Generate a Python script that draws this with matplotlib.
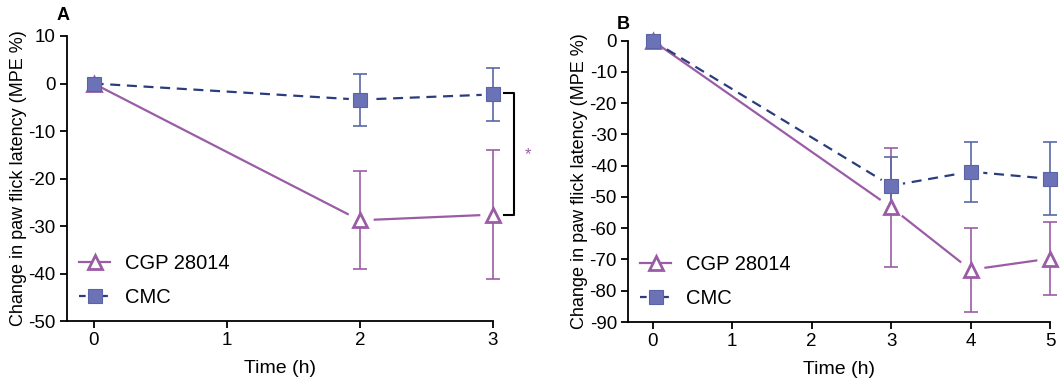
import matplotlib
matplotlib.use("Agg")
import matplotlib.pyplot as plt
from matplotlib.lines import Line2D

plt.rcParams['font.family'] = ['Liberation Sans', 'DejaVu Sans']
plt.rcParams['axes.unicode_minus'] = False

# Panel A data
a_time = [0, 2, 3]
a_cgp = [0, -28.8, -27.6]
a_cgp_err = [0, 10.3, 13.5]
a_cmc = [0, -3.4, -2.3]
a_cmc_err = [0, 5.5, 5.5]

# Panel B data
b_time = [0, 3, 4, 5]
b_cgp = [0, -53.3, -73.3, -69.7]
b_cgp_err = [0, 19.0, 13.5, 11.6]
b_cmc = [0, -46.4, -41.9, -44.2]
b_cmc_err = [0, 9.2, 9.6, 11.7]

ylabel = "Change in paw flick latency (MPE %)"
xlabel = "Time (h)"
labels = ["CGP 28014", "CMC"]

PURPLE = "#9b5ca6"
NAVY = "#2b3d7c"
SQFILL = "#6b72b5"
SQERR = "#5a68a6"

fig = plt.figure(figsize=(10.63, 3.85), dpi=100)
axA = fig.add_axes([0.063, 0.1662, 0.4008, 0.7403])
axB = fig.add_axes([0.5908, 0.1636, 0.397, 0.7307])


def draw(ax, t, cgp, cgpe, cmc, cmce):
    ax.plot(t, cgp, color=PURPLE, lw=1.6, zorder=1, clip_on=False)
    ax.plot(t, cmc, color=NAVY, lw=1.6, ls=(0, (4.5, 3)), zorder=1, clip_on=False)
    # gaps around markers
    ax.plot(t[1:], cgp[1:], ls='none', marker='o', ms=19, mfc='white', mec='none', zorder=2, clip_on=False)
    ax.plot(t[1:], cmc[1:], ls='none', marker='o', ms=17, mfc='white', mec='none', zorder=2, clip_on=False)
    ax.errorbar(t[1:], cgp[1:], yerr=cgpe[1:], fmt='none', ecolor=PURPLE, elinewidth=1.2,
                capsize=4.7, capthick=1.2, zorder=3, clip_on=False)
    ax.errorbar(t[1:], cmc[1:], yerr=cmce[1:], fmt='none', ecolor=SQERR, elinewidth=1.2,
                capsize=4.7, capthick=1.2, zorder=3, clip_on=False)
    ax.plot(t, cgp, ls='none', marker='^', ms=10.5, mfc='white', mec=PURPLE, mew=2, zorder=4, clip_on=False)
    ax.plot(t, cmc, ls='none', marker='s', ms=9.6, mfc=SQFILL, mec='#5a63a8', mew=0.8, zorder=5, clip_on=False)
    for s in ['top', 'right']:
        ax.spines[s].set_visible(False)
    for s in ['left', 'bottom']:
        ax.spines[s].set_linewidth(1.3)
    ax.tick_params(axis='both', direction='out', length=5, width=1.3, labelsize=13.5, pad=3)
    ax.set_ylabel(ylabel, fontsize=13, labelpad=1)
    ax.set_xlabel(xlabel, fontsize=14, labelpad=8)
    h1 = Line2D([], [], color=PURPLE, lw=1.6, marker='^', ms=10.5, mfc='white', mec=PURPLE, mew=2)
    h2 = Line2D([], [], color=NAVY, lw=1.6, ls=(0, (3, 2)), marker='s', ms=9.6, mfc=SQFILL, mec='#5a63a8', mew=0.8)
    return [h1, h2]


def legend(ax, handles):
    ax.legend(handles, labels, loc='lower left', bbox_to_anchor=(-0.005, 0.0), frameon=False,
              fontsize=14.5, handlelength=1.55, handletextpad=0.75, labelspacing=0.72,
              borderaxespad=0.3)


hA = draw(axA, a_time, a_cgp, a_cgp_err, a_cmc, a_cmc_err)
axA.set_xlim(-0.2, 3)
axA.set_ylim(-50, 10)
axA.set_xticks([0, 1, 2, 3])
axA.set_yticks(range(-50, 11, 10))
legend(axA, hA)
# significance bracket
axA.plot([3.08, 3.16, 3.16, 3.08], [-1.9, -1.9, -27.6, -27.6], color='black', lw=1.5,
         clip_on=False, zorder=6)
axA.text(3.26, -15.0, "*", color=PURPLE, fontsize=12, ha='center', va='center', clip_on=False)
axA.text(-0.23, 12.5, "A", fontsize=13, fontweight='bold', ha='center', va='bottom')

hB = draw(axB, b_time, b_cgp, b_cgp_err, b_cmc, b_cmc_err)
axB.set_xlim(-0.31, 5)
axB.set_ylim(-90, 0)
axB.set_xticks([0, 1, 2, 3, 4, 5])
axB.set_yticks(range(-90, 1, 10))
legend(axB, hB)
axB.text(-0.37, 2.5, "B", fontsize=13, fontweight='bold', ha='center', va='bottom')

fig.savefig("out.png", dpi=100)
